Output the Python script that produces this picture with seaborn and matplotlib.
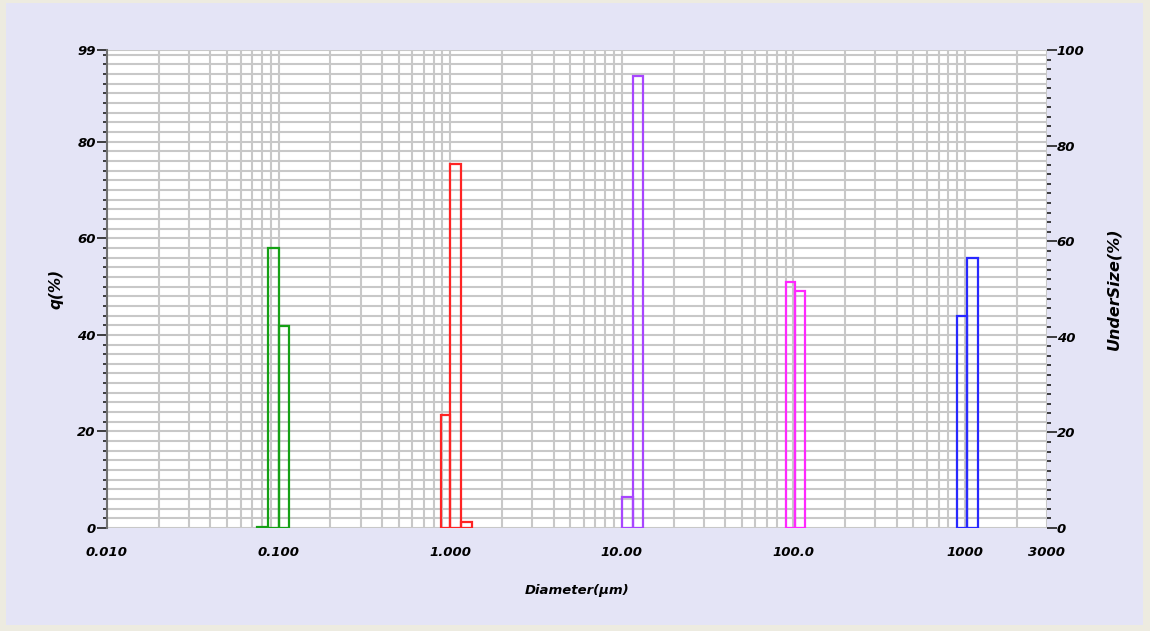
import numpy as np
import pandas as pd
import matplotlib
matplotlib.use("Agg")
import matplotlib.pyplot as plt
import matplotlib.ticker as mticker
from matplotlib.patches import Rectangle
import seaborn as sns

# bin edges (um) and q(%) per peak
green_edges = [0.075, 0.0867, 0.1005, 0.115]
green_q = [0.3, 58.0, 41.8]
red_edges = [0.883, 1.0, 1.155, 1.33]
red_q = [23.4, 75.4, 1.2]
purple_edges = [10.0, 11.6, 13.3]
purple_q = [6.4, 93.6]
magenta_edges = [90.2, 102.0, 117.0]
magenta_q = [51.0, 49.0]
blue_edges = [898.0, 1030.0, 1190.0]
blue_q = [44.0, 56.0]

x_ticks = [0.01, 0.1, 1, 10, 100, 1000, 3000]
x_labels = ["0.010", "0.100", "1.000", "10.00", "100.0", "1000", "3000"]
left_ticks = [0, 20, 40, 60, 80, 99]
right_ticks = [0, 20, 40, 60, 80, 100]

groups = [
    (green_edges, green_q, "#14A014"),
    (red_edges, red_q, "#FF2424"),
    (purple_edges, purple_q, "#A846FF"),
    (magenta_edges, magenta_q, "#FF28FF"),
    (blue_edges, blue_q, "#2828FF"),
]

sns.set_style("white")
plt.rcParams["font.family"] = ["DejaVu Sans"]
plt.rcParams["text.color"] = "black"
plt.rcParams["axes.labelcolor"] = "black"
plt.rcParams["xtick.labelcolor"] = "black"
plt.rcParams["ytick.labelcolor"] = "black"

fig = plt.figure(figsize=(11.5, 6.31), dpi=100)
fig.patch.set_facecolor("#EDEBE0")
fig.patches.append(Rectangle((6 / 1150, 6 / 631), 1137 / 1150, 622 / 631,
                             transform=fig.transFigure, facecolor="#E4E4F6",
                             edgecolor="none", zorder=-10))

ax = fig.add_axes([107 / 1150, 103 / 631, 940 / 1150, 478 / 631])
ax.set_facecolor("white")

for edges, q, col in groups:
    edges = np.array(edges)
    df = pd.DataFrame({"d": np.sqrt(edges[:-1] * edges[1:]), "q": q})
    sns.histplot(data=df, x="d", weights="q", bins=list(np.log10(edges)),
                 log_scale=True, element="bars", fill=False, color=col,
                 linewidth=1.6, ax=ax)

ax.set_xlim(0.01, 3000)
ax.set_ylim(0, 99)
ax.set_axisbelow(True)

tick_font = dict(fontsize=9.5, fontweight="bold", fontstyle="italic", color="black")

ax.set_xticks(x_ticks)
ax.set_xticklabels(x_labels, **tick_font)
ax.xaxis.set_minor_locator(mticker.LogLocator(base=10, subs=np.arange(2, 10), numticks=20))
ax.xaxis.set_minor_formatter(mticker.NullFormatter())
ax.set_yticks(left_ticks)
ax.set_yticklabels([str(t) for t in left_ticks], **tick_font)
ax.yaxis.set_minor_locator(mticker.MultipleLocator(2))

ax.grid(True, which="both", color="#C8C8C8", linewidth=1.5)
ax.tick_params(axis="both", which="major", direction="out", length=7, width=1.2,
               color="#202020", pad=1)
ax.tick_params(axis="both", which="minor", direction="out", length=3, width=1.2,
               color="#202020")
ax.tick_params(axis="x", which="major", pad=6)

for s in ["top", "right", "bottom"]:
    ax.spines[s].set_visible(False)
ax.spines["left"].set_color("#707070")
ax.spines["left"].set_linewidth(1.5)

ax.set_xlabel("Diameter(μm)", fontsize=9.5, fontweight="bold", fontstyle="italic",
              labelpad=18, color="black")
ax.set_ylabel("q(%)", fontsize=11, fontweight="bold", fontstyle="italic",
              labelpad=10, color="black")

ax2 = ax.twinx()
ax2.set_ylim(0, 100)
ax2.set_yticks(right_ticks)
ax2.set_yticklabels([str(t) for t in right_ticks], **tick_font)
ax2.yaxis.set_minor_locator(mticker.MultipleLocator(2))
ax2.tick_params(axis="y", which="major", direction="out", length=7, width=1.2,
                color="#202020", pad=0)
ax2.tick_params(axis="y", which="minor", direction="out", length=3, width=1.2,
                color="#202020")
for s in ["top", "right", "bottom", "left"]:
    ax2.spines[s].set_visible(False)
ax2.set_ylabel("UnderSize(%)", fontsize=11.5, fontweight="bold", fontstyle="italic",
               labelpad=16, color="black")

fig.savefig("out.png", dpi=100, facecolor=fig.get_facecolor())
